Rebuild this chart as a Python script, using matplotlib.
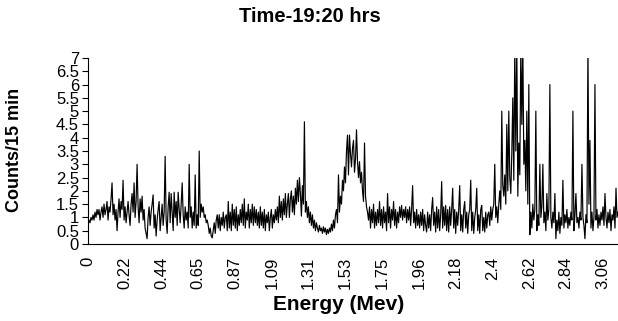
import numpy as np
import matplotlib
matplotlib.use("Agg")
import matplotlib.pyplot as plt

plt.rcParams["font.family"] = ["Liberation Sans", "DejaVu Sans"]

# counts per channel (one channel per pixel column)
counts = [
    0.7, 0.9, 0.8, 1.0, 0.9, 1.1, 0.9, 1.2, 1.0, 1.3,
    1.1, 1.3, 0.9, 1.2, 1.4, 1.0, 1.5, 1.1, 1.3, 1.6,
    0.9, 1.4, 1.2, 1.7, 2.3, 1.1, 1.5, 0.9, 1.3, 0.5,
    1.2, 1.7, 1.0, 1.6, 1.3, 2.4, 0.9, 1.4, 0.8, 1.2,
    1.6, 1.1, 0.7, 1.5, 1.9, 1.2, 2.3, 1.0, 1.6, 3.0,
    1.4, 0.8, 1.7, 1.2, 1.8, 0.9, 1.3, 0.6, 0.4, 0.2,
    1.0, 1.4, 0.7, 1.2, 1.5, 1.85, 0.6, 1.1, 0.3, 0.9,
    1.3, 1.6, 0.5, 1.0, 1.5, 0.7, 1.2, 3.3, 0.9, 0.4,
    1.4, 1.95, 0.8, 1.9, 1.2, 0.5, 1.95, 1.0, 1.6, 0.7,
    1.95, 1.3, 0.8, 1.5, 2.3, 1.1, 0.6, 1.4, 0.9, 1.2,
    0.6, 3.0, 1.0, 1.4, 0.6, 1.2, 0.7, 2.6, 0.6, 1.1,
    0.7, 3.5, 1.0, 1.5, 1.2, 1.4, 1.0, 1.1, 0.8, 0.9,
    0.7, 0.4, 0.6, 0.3, 0.23, 0.5, 0.8, 0.4, 0.9, 1.1,
    0.6, 1.1, 0.5, 1.0, 0.7, 1.2, 0.6, 1.0, 1.1, 0.5,
    1.6, 0.6, 1.2, 0.5, 1.5, 0.7, 1.3, 0.6, 1.4, 0.5,
    1.1, 0.7, 1.3, 0.8, 1.5, 0.7, 1.7, 0.6, 1.2, 0.9,
    1.5, 0.6, 1.3, 0.8, 1.5, 0.7, 1.4, 0.8, 1.3, 0.7,
    1.2, 0.6, 1.4, 0.7, 1.2, 0.6, 1.3, 0.5, 1.1, 0.8,
    1.2, 0.5, 1.0, 1.3, 0.6, 1.1, 0.8, 1.3, 0.9, 1.4,
    0.8, 1.8, 1.0, 1.6, 0.9, 1.7, 1.1, 1.9, 1.0, 1.5,
    1.9, 1.0, 1.7, 2.0, 1.2, 1.8, 1.1, 2.1, 1.5, 2.4,
    1.6, 2.5, 1.9, 1.05, 2.2, 1.5, 4.6, 1.2, 1.6, 1.0,
    1.4, 0.8, 1.2, 0.7, 1.1, 0.6, 0.9, 0.5, 0.8, 0.6,
    0.45, 0.7, 0.5, 0.6, 0.4, 0.65, 0.45, 0.6, 0.35, 0.55,
    0.4, 0.6, 0.45, 0.75, 0.5, 0.9, 0.6, 1.1, 1.3, 0.8,
    2.6, 1.2, 1.8, 1.5, 2.4, 2.0, 2.9, 2.3, 3.5, 4.1,
    2.6, 4.1, 3.4, 2.9, 3.6, 3.9, 2.7, 3.2, 4.3, 3.1,
    2.5, 3.1, 2.3, 2.7, 2.0, 1.6, 3.8, 1.8, 1.4, 1.2,
    0.9, 1.4, 0.6, 1.3, 0.8, 1.5, 0.6, 1.2, 0.7, 1.3,
    0.8, 1.6, 0.7, 1.3, 0.6, 1.4, 0.8, 1.2, 0.5, 1.9,
    0.8, 1.4, 0.6, 1.3, 0.9, 1.6, 0.7, 1.3, 0.6, 1.2,
    0.8, 1.4, 1.0, 1.45, 0.9, 1.3, 1.0, 1.4, 0.8, 1.3,
    0.9, 1.4, 0.7, 1.3, 2.2, 0.8, 1.2, 0.6, 1.3, 0.7,
    1.1, 0.6, 1.2, 0.7, 1.3, 0.5, 1.1, 0.7, 0.45, 1.2,
    0.6, 1.1, 0.5, 1.3, 1.75, 0.7, 1.2, 0.45, 1.4, 0.6,
    1.3, 0.5, 1.1, 2.35, 0.6, 1.4, 0.7, 1.45, 0.5, 1.3,
    0.45, 1.4, 0.7, 1.3, 2.1, 0.6, 1.3, 0.4, 1.2, 0.7,
    1.3, 2.2, 0.5, 1.1, 0.45, 1.3, 1.6, 0.6, 1.2, 0.4,
    1.1, 1.3, 2.4, 0.5, 1.2, 0.4, 1.0, 1.3, 2.1, 0.5,
    1.1, 0.4, 1.3, 1.45, 0.5, 1.0, 0.45, 1.2, 0.6, 1.1,
    1.2, 0.7, 1.4, 0.9, 1.3, 1.5, 3.0, 1.0, 1.4, 0.8,
    1.5, 2.0, 1.3, 5.0, 2.2, 1.8, 2.6, 1.5, 4.5, 2.0,
    5.0, 2.5, 1.9, 3.4, 5.5, 2.4, 7.5, 3.5, 7.5, 1.8,
    3.8, 2.6, 7.5, 4.5, 7.5, 3.0, 3.9, 2.0, 5.0, 1.5,
    6.0, 0.35, 1.2, 0.6, 1.5, 0.9, 1.3, 5.0, 0.5, 1.1,
    0.7, 3.0, 1.0, 1.4, 3.0, 0.8, 1.2, 0.5, 1.9, 0.9,
    1.3, 6.0, 1.0, 0.6, 1.2, 0.8, 1.9, 0.2, 0.9, 0.5,
    1.2, 0.4, 1.0, 0.7, 2.4, 0.6, 1.1, 0.8, 1.3, 0.6,
    1.0, 0.7, 1.2, 0.9, 5.0, 0.5, 1.1, 1.9, 0.8, 1.0,
    0.6, 1.2, 0.9, 3.0, 1.0, 0.7, 0.2, 1.1, 0.8, 7.5,
    1.5, 3.9, 0.6, 1.2, 0.5, 1.0, 6.0, 0.9, 1.3, 0.6,
    1.1, 0.7, 1.2, 0.9, 1.4, 0.7, 1.9, 1.0, 0.6, 1.2,
    0.8, 1.3, 0.5, 1.1, 0.9, 1.4, 0.6, 2.1, 1.0, 1.2,
]
mev_per_channel = 0.005957
tick_labels = ["0", "0.22", "0.44", "0.65", "0.87", "1.09", "1.31", "1.53",
               "1.75", "1.96", "2.18", "2.4", "2.62", "2.84", "3.06"]
tick_step = 0.2186
yticks = np.arange(0, 7.01, 0.5)
ytick_labels = ["0", "0.5", "1", "1.5", "2", "2.5", "3", "3.5", "4", "4.5",
                "5", "5.5", "6", "6.5", "7"]

energy = np.arange(len(counts)) * mev_per_channel

fig = plt.figure(figsize=(6.18, 3.21), dpi=100)
ax = fig.add_axes([88 / 618, 77 / 321, 530 / 618, 186 / 321])
ax.plot(energy, counts, color="black", lw=0.85)
ax.set_xlim(0, energy[-1])
ax.set_ylim(0, 7)

ax.set_xticks(np.arange(len(tick_labels)) * tick_step)
ax.set_xticklabels(tick_labels, rotation=90, fontsize=12)
ax.tick_params(axis="x", length=0, pad=9)
ax.set_yticks(yticks)
ax.set_yticklabels(ytick_labels, fontsize=12)
ax.tick_params(axis="y", length=4.5, width=0.8, pad=2)
ax.spines["top"].set_visible(False)
ax.spines["right"].set_visible(False)
ax.spines["left"].set_linewidth(0.8)
ax.spines["bottom"].set_linewidth(0.8)

fig.text(310 / 618, 1 - 17 / 321, "Time-19:20 hrs", ha="center", va="center",
         fontsize=14.5, fontweight="bold")
fig.text(339 / 618, 1 - 305 / 321, "Energy (Mev)", ha="center", va="center",
         fontsize=15, fontweight="bold")
fig.text(15 / 618, 1 - 150 / 321, "Counts/15 min", ha="center", va="center",
         rotation=90, fontsize=13, fontweight="bold")

fig.savefig("out.png", dpi=100)
